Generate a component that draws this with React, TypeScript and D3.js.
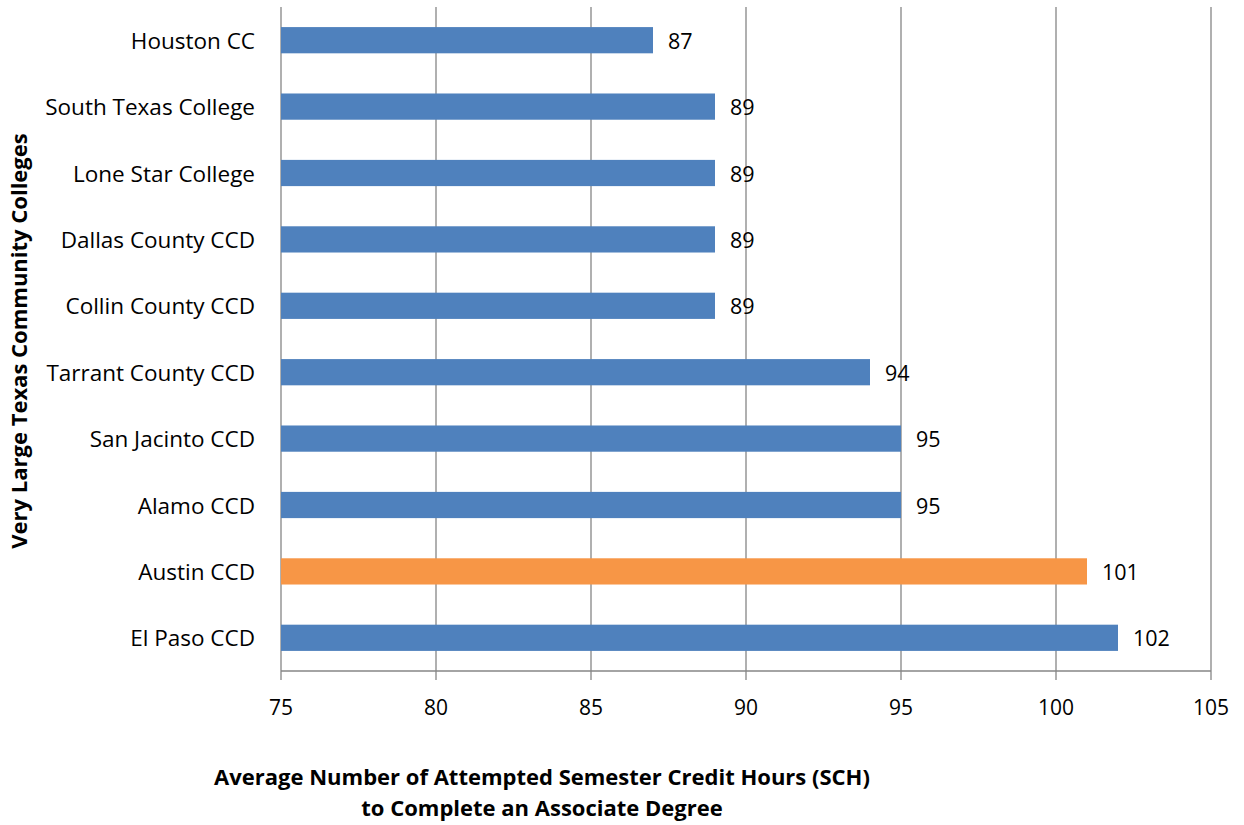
import React from "react";
import * as d3 from "d3";

const categories = [
  "Houston CC",
  "South Texas College",
  "Lone Star College",
  "Dallas County CCD",
  "Collin County CCD",
  "Tarrant County CCD",
  "San Jacinto CCD",
  "Alamo CCD",
  "Austin CCD",
  "El Paso CCD",
];
const values = [87, 89, 89, 89, 89, 94, 95, 95, 101, 102];
const highlighted = ["Austin CCD"];
const xTicks = [75, 80, 85, 90, 95, 100, 105];
const xTitle = [
  "Average Number of Attempted Semester Credit Hours (SCH)",
  "to Complete an Associate Degree",
];
const yTitle = "Very Large Texas Community Colleges";

const W = 1244;
const H = 825;
const left = 281;
const right = 1211;
const top = 7;
const bottom = 671;
const FONT = "'Open Sans', sans-serif";

export default function App() {
  const x = d3.scaleLinear().domain([75, 105]).range([left, right]);
  const y = d3
    .scaleBand<string>()
    .domain(categories)
    .range([top, bottom])
    .paddingInner(0.605)
    .paddingOuter(0.3025);
  const grid = "#868686";
  return (
    <svg
      width={W}
      height={H}
      style={{ position: "absolute", left: 0, top: 0 }}
      fontFamily={FONT}
    >
      {xTicks.map((t) => (
        <line key={"g" + t} x1={x(t)} x2={x(t)} y1={top} y2={bottom + 9} stroke={grid} strokeWidth={1.3} />
      ))}
      <line x1={left} x2={right} y1={bottom} y2={bottom} stroke={grid} strokeWidth={1.3} />
      {categories.map((c, i) => (
        <g key={c}>
          <rect
            x={x(75)}
            y={y(c)!}
            width={x(values[i]) - x(75)}
            height={y.bandwidth()}
            fill={highlighted.includes(c) ? "#F79646" : "#4F81BD"}
          />
          <text
            x={x(values[i]) + 15}
            y={y(c)! + y.bandwidth() / 2}
            dominantBaseline="central"
            fontSize={21.5}
            fill="#000"
          >
            {values[i]}
          </text>
          <text
            x={255}
            y={y(c)! + y.bandwidth() / 2}
            dominantBaseline="central"
            textAnchor="end"
            fontSize={22.5}
            fill="#000"
          >
            {c}
          </text>
        </g>
      ))}
      {xTicks.map((t) => (
        <text key={"t" + t} x={x(t)} y={707} dominantBaseline="central" textAnchor="middle" fontSize={21}>
          {t}
        </text>
      ))}
      {xTitle.map((s, i) => (
        <text
          key={s}
          x={542}
          y={776 + i * 31}
          dominantBaseline="central"
          textAnchor="middle"
          fontSize={22}
          fontWeight="bold"
        >
          {s}
        </text>
      ))}
      <text
        transform={`translate(18, 341) rotate(-90)`}
        dominantBaseline="central"
        textAnchor="middle"
        fontSize={22}
        fontWeight="bold"
      >
        {yTitle}
      </text>
    </svg>
  );
}
